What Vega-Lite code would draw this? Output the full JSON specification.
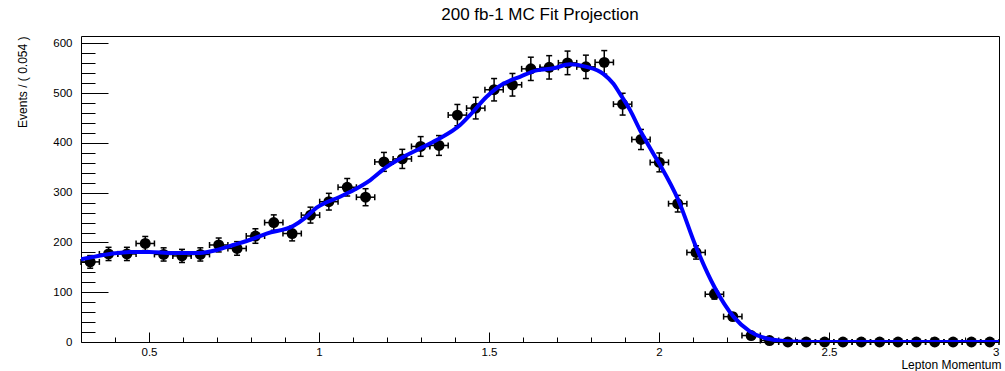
{
  "$schema": "https://vega.github.io/schema/vega-lite/v6.json",
  "autosize": "none",
  "width": 918,
  "height": 306,
  "padding": {"left": 81, "top": 36, "right": 6, "bottom": 29},
  "background": "white",
  "config": {
    "view": {"stroke": "black", "strokeWidth": 1},
    "font": "Liberation Sans"
  },
  "title": {
    "text": "200 fb-1 MC Fit Projection",
    "anchor": "middle",
    "frame": "group",
    "font": "Liberation Sans",
    "fontSize": 17,
    "fontWeight": "normal",
    "color": "black",
    "baseline": "alphabetic",
    "offset": -1
  },
  "datasets": {
    "pts": [
      {"x": 0.327, "xlo": 0.300, "xhi": 0.354, "n": 161, "lo": 148.3, "hi": 173.7},
      {"x": 0.381, "xlo": 0.354, "xhi": 0.408, "n": 177, "lo": 163.7, "hi": 190.3},
      {"x": 0.435, "xlo": 0.408, "xhi": 0.462, "n": 177, "lo": 163.7, "hi": 190.3},
      {"x": 0.489, "xlo": 0.462, "xhi": 0.516, "n": 198, "lo": 183.9, "hi": 212.1},
      {"x": 0.543, "xlo": 0.516, "xhi": 0.570, "n": 176, "lo": 162.7, "hi": 189.3},
      {"x": 0.597, "xlo": 0.570, "xhi": 0.624, "n": 173, "lo": 159.8, "hi": 186.2},
      {"x": 0.651, "xlo": 0.624, "xhi": 0.678, "n": 176, "lo": 162.7, "hi": 189.3},
      {"x": 0.705, "xlo": 0.678, "xhi": 0.732, "n": 195, "lo": 181.0, "hi": 209.0},
      {"x": 0.759, "xlo": 0.732, "xhi": 0.786, "n": 188, "lo": 174.3, "hi": 201.7},
      {"x": 0.813, "xlo": 0.786, "xhi": 0.840, "n": 213, "lo": 198.4, "hi": 227.6},
      {"x": 0.867, "xlo": 0.840, "xhi": 0.894, "n": 240, "lo": 224.5, "hi": 255.5},
      {"x": 0.921, "xlo": 0.894, "xhi": 0.948, "n": 218, "lo": 203.2, "hi": 232.8},
      {"x": 0.975, "xlo": 0.948, "xhi": 1.002, "n": 255, "lo": 239.0, "hi": 271.0},
      {"x": 1.029, "xlo": 1.002, "xhi": 1.056, "n": 282, "lo": 265.2, "hi": 298.8},
      {"x": 1.083, "xlo": 1.056, "xhi": 1.110, "n": 311, "lo": 293.4, "hi": 328.6},
      {"x": 1.137, "xlo": 1.110, "xhi": 1.164, "n": 291, "lo": 273.9, "hi": 308.1},
      {"x": 1.191, "xlo": 1.164, "xhi": 1.218, "n": 362, "lo": 343.0, "hi": 381.0},
      {"x": 1.245, "xlo": 1.218, "xhi": 1.272, "n": 368, "lo": 348.8, "hi": 387.2},
      {"x": 1.299, "xlo": 1.272, "xhi": 1.326, "n": 393, "lo": 373.2, "hi": 412.8},
      {"x": 1.353, "xlo": 1.326, "xhi": 1.380, "n": 395, "lo": 375.1, "hi": 414.9},
      {"x": 1.407, "xlo": 1.380, "xhi": 1.434, "n": 456, "lo": 434.6, "hi": 477.4},
      {"x": 1.461, "xlo": 1.434, "xhi": 1.488, "n": 470, "lo": 448.3, "hi": 491.7},
      {"x": 1.515, "xlo": 1.488, "xhi": 1.542, "n": 507, "lo": 484.5, "hi": 529.5},
      {"x": 1.569, "xlo": 1.542, "xhi": 1.596, "n": 517, "lo": 494.3, "hi": 539.7},
      {"x": 1.623, "xlo": 1.596, "xhi": 1.650, "n": 549, "lo": 525.6, "hi": 572.4},
      {"x": 1.677, "xlo": 1.650, "xhi": 1.704, "n": 552, "lo": 528.5, "hi": 575.5},
      {"x": 1.731, "xlo": 1.704, "xhi": 1.758, "n": 561, "lo": 537.3, "hi": 584.7},
      {"x": 1.785, "xlo": 1.758, "xhi": 1.812, "n": 553, "lo": 529.5, "hi": 576.5},
      {"x": 1.839, "xlo": 1.812, "xhi": 1.866, "n": 562, "lo": 538.3, "hi": 585.7},
      {"x": 1.893, "xlo": 1.866, "xhi": 1.920, "n": 478, "lo": 456.1, "hi": 499.9},
      {"x": 1.947, "xlo": 1.920, "xhi": 1.974, "n": 407, "lo": 386.8, "hi": 427.2},
      {"x": 2.001, "xlo": 1.974, "xhi": 2.028, "n": 361, "lo": 342.0, "hi": 380.0},
      {"x": 2.055, "xlo": 2.028, "xhi": 2.082, "n": 278, "lo": 261.3, "hi": 294.7},
      {"x": 2.109, "xlo": 2.082, "xhi": 2.136, "n": 180, "lo": 166.6, "hi": 193.4},
      {"x": 2.163, "xlo": 2.136, "xhi": 2.190, "n": 96, "lo": 86.2, "hi": 105.8},
      {"x": 2.217, "xlo": 2.190, "xhi": 2.244, "n": 51, "lo": 43.9, "hi": 58.1},
      {"x": 2.271, "xlo": 2.244, "xhi": 2.298, "n": 13, "lo": 9.4, "hi": 16.6},
      {"x": 2.325, "xlo": 2.298, "xhi": 2.352, "n": 3, "lo": 1.3, "hi": 4.7},
      {"x": 2.379, "xlo": 2.352, "xhi": 2.406, "n": 0, "lo": 0, "hi": 1.1},
      {"x": 2.433, "xlo": 2.406, "xhi": 2.460, "n": 0, "lo": 0, "hi": 1.1},
      {"x": 2.487, "xlo": 2.460, "xhi": 2.514, "n": 0, "lo": 0, "hi": 1.1},
      {"x": 2.541, "xlo": 2.514, "xhi": 2.568, "n": 0, "lo": 0, "hi": 1.1},
      {"x": 2.595, "xlo": 2.568, "xhi": 2.622, "n": 0, "lo": 0, "hi": 1.1},
      {"x": 2.649, "xlo": 2.622, "xhi": 2.676, "n": 0, "lo": 0, "hi": 1.1},
      {"x": 2.703, "xlo": 2.676, "xhi": 2.730, "n": 0, "lo": 0, "hi": 1.1},
      {"x": 2.757, "xlo": 2.730, "xhi": 2.784, "n": 0, "lo": 0, "hi": 1.1},
      {"x": 2.811, "xlo": 2.784, "xhi": 2.838, "n": 0, "lo": 0, "hi": 1.1},
      {"x": 2.865, "xlo": 2.838, "xhi": 2.892, "n": 0, "lo": 0, "hi": 1.1},
      {"x": 2.919, "xlo": 2.892, "xhi": 2.946, "n": 0, "lo": 0, "hi": 1.1},
      {"x": 2.973, "xlo": 2.946, "xhi": 3.000, "n": 0, "lo": 0, "hi": 1.1}
    ],
    "fit": [
      {"fx": 0.300, "fy": 166},
      {"fx": 0.385, "fy": 177},
      {"fx": 0.444, "fy": 181},
      {"fx": 0.500, "fy": 181},
      {"fx": 0.571, "fy": 179},
      {"fx": 0.650, "fy": 179},
      {"fx": 0.700, "fy": 185},
      {"fx": 0.748, "fy": 195},
      {"fx": 0.800, "fy": 206},
      {"fx": 0.846, "fy": 218},
      {"fx": 0.924, "fy": 233},
      {"fx": 0.960, "fy": 250},
      {"fx": 0.993, "fy": 270},
      {"fx": 1.062, "fy": 292},
      {"fx": 1.101, "fy": 305},
      {"fx": 1.150, "fy": 325},
      {"fx": 1.199, "fy": 352},
      {"fx": 1.248, "fy": 372},
      {"fx": 1.297, "fy": 389},
      {"fx": 1.346, "fy": 406},
      {"fx": 1.415, "fy": 436},
      {"fx": 1.444, "fy": 456},
      {"fx": 1.493, "fy": 493},
      {"fx": 1.542, "fy": 519},
      {"fx": 1.591, "fy": 533},
      {"fx": 1.640, "fy": 546},
      {"fx": 1.689, "fy": 550},
      {"fx": 1.738, "fy": 558},
      {"fx": 1.787, "fy": 553},
      {"fx": 1.836, "fy": 539},
      {"fx": 1.866, "fy": 519},
      {"fx": 1.885, "fy": 499},
      {"fx": 1.915, "fy": 466},
      {"fx": 1.944, "fy": 426},
      {"fx": 1.983, "fy": 379},
      {"fx": 2.003, "fy": 356},
      {"fx": 2.057, "fy": 285},
      {"fx": 2.109, "fy": 191},
      {"fx": 2.165, "fy": 108},
      {"fx": 2.219, "fy": 51},
      {"fx": 2.268, "fy": 21},
      {"fx": 2.317, "fy": 7},
      {"fx": 2.386, "fy": 1},
      {"fx": 2.450, "fy": 0},
      {"fx": 3.000, "fy": 0}
    ]
  },
  "resolve": {"axis": {"x": "independent", "y": "independent"}},
  "layer": [
    {
      "data": {"name": "pts"},
      "mark": {"type": "rule", "color": "black", "strokeWidth": 1.5},
      "encoding": {
        "x": {
          "field": "x", "type": "quantitative",
          "scale": {"domain": [0.3, 3], "nice": false, "zero": false},
          "axis": {
            "orient": "bottom",
            "values": [0.5, 1, 1.5, 2, 2.5, 3],
            "format": "~g",
            "domain": false, "grid": false,
            "tickSize": -10, "tickColor": "black", "tickWidth": 1,
            "labelFont": "Liberation Sans", "labelFontSize": 11.5, "labelColor": "black",
            "labelPadding": 14,
            "title": "Lepton Momentum",
            "titleFont": "Liberation Sans", "titleFontSize": 12, "titleFontWeight": "normal", "titleColor": "black",
            "titleAlign": "right", "titleBaseline": "middle", "titleX": 920, "titleY": 22
          }
        },
        "y": {
          "field": "lo", "type": "quantitative",
          "scale": {"domain": [0, 615], "nice": false},
          "axis": {
            "orient": "left",
            "values": [0, 100, 200, 300, 400, 500, 600],
            "domain": false, "grid": false,
            "tickSize": -27, "tickColor": "black", "tickWidth": 1,
            "labelFont": "Liberation Sans", "labelFontSize": 11.5, "labelColor": "black",
            "labelPadding": 36,
            "title": "Events / ( 0.054 )",
            "titleFont": "Liberation Sans", "titleFontSize": 12, "titleFontWeight": "normal", "titleColor": "black",
            "titleAngle": -90, "titleAlign": "right", "titleBaseline": "middle", "titleX": -58.5, "titleY": 0
          }
        },
        "y2": {"field": "hi"}
      }
    },
    {
      "data": {"name": "pts"},
      "mark": {"type": "rule", "color": "black", "strokeWidth": 1.5},
      "encoding": {
        "x": {
          "field": "xlo", "type": "quantitative",
          "axis": {
            "orient": "bottom",
            "values": [0.4, 0.6, 0.7, 0.8, 0.9, 1.1, 1.2, 1.3, 1.4, 1.6, 1.7, 1.8, 1.9, 2.1, 2.2, 2.3, 2.4, 2.6, 2.7, 2.8, 2.9],
            "labels": false, "domain": false, "grid": false,
            "tickSize": -5, "tickColor": "black", "tickWidth": 1,
            "title": null
          }
        },
        "x2": {"field": "xhi"},
        "y": {
          "field": "n", "type": "quantitative",
          "axis": {
            "orient": "left",
            "values": [20, 40, 60, 80, 120, 140, 160, 180, 220, 240, 260, 280, 320, 340, 360, 380, 420, 440, 460, 480, 520, 540, 560, 580],
            "labels": false, "domain": false, "grid": false,
            "tickSize": -14, "tickColor": "black", "tickWidth": 1,
            "title": null
          }
        }
      }
    },
    {
      "data": {"name": "pts"},
      "mark": {"type": "tick", "orient": "horizontal", "color": "black", "size": 6, "thickness": 1.5, "opacity": 1},
      "encoding": {
        "x": {"field": "x", "type": "quantitative", "axis": null},
        "y": {"field": "hi", "type": "quantitative", "axis": null}
      }
    },
    {
      "data": {"name": "pts"},
      "mark": {"type": "tick", "orient": "horizontal", "color": "black", "size": 6, "thickness": 1.5, "opacity": 1},
      "encoding": {
        "x": {"field": "x", "type": "quantitative", "axis": null},
        "y": {"field": "lo", "type": "quantitative", "axis": null}
      }
    },
    {
      "data": {"name": "pts"},
      "mark": {"type": "tick", "orient": "vertical", "color": "black", "size": 6, "thickness": 1.5, "opacity": 1},
      "encoding": {
        "x": {"field": "xlo", "type": "quantitative", "axis": null},
        "y": {"field": "n", "type": "quantitative", "axis": null}
      }
    },
    {
      "data": {"name": "pts"},
      "mark": {"type": "tick", "orient": "vertical", "color": "black", "size": 6, "thickness": 1.5, "opacity": 1},
      "encoding": {
        "x": {"field": "xhi", "type": "quantitative", "axis": null},
        "y": {"field": "n", "type": "quantitative", "axis": null}
      }
    },
    {
      "data": {"name": "pts"},
      "mark": {"type": "circle", "color": "black", "size": 120, "opacity": 1},
      "encoding": {
        "x": {"field": "x", "type": "quantitative", "axis": null},
        "y": {"field": "n", "type": "quantitative", "axis": null}
      }
    },
    {
      "data": {"name": "fit"},
      "mark": {"type": "line", "color": "#0000ff", "strokeWidth": 4, "interpolate": "monotone", "clip": true},
      "encoding": {
        "x": {"field": "fx", "type": "quantitative", "axis": null},
        "y": {"field": "fy", "type": "quantitative", "axis": null}
      }
    }
  ]
}
